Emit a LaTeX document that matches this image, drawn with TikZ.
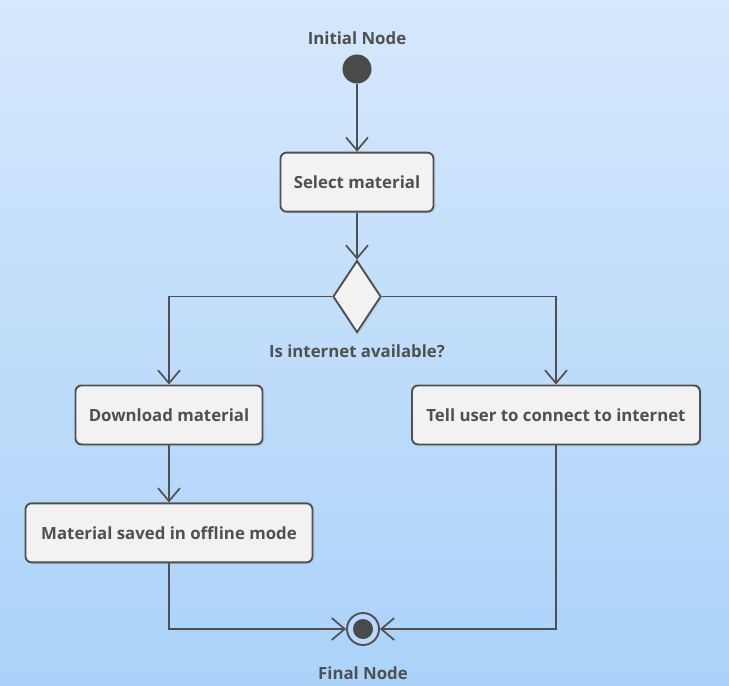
\documentclass[tikz,border=0pt]{standalone}
\usepackage{fontspec}
\setmainfont{Open Sans}
\usetikzlibrary{arrows.meta,positioning,shapes.geometric,shadows}
\definecolor{linegray}{HTML}{505050}
\definecolor{nodedark}{HTML}{4A4A4A}
\definecolor{boxfill}{HTML}{F2F2F2}
\definecolor{bgtop}{HTML}{D5E8FC}
\definecolor{bgbot}{HTML}{ABD2F9}
\tikzstyle{post}=[-{Straight Barb[length=13pt,width=22pt]},line width=1.7pt,draw=linegray]
\tikzstyle{softshadow}=[drop shadow={opacity=0.12,shadow xshift=2pt,shadow yshift=-2pt}]
\tikzstyle{action}=[rectangle,rounded corners=6pt,draw=linegray,line width=1.9pt,fill=boxfill,minimum height=59pt,text=linegray,font=\bfseries\fontsize{16.8}{19}\selectfont,softshadow]
\tikzstyle{decision}=[diamond,draw=linegray,line width=1.9pt,fill=boxfill,minimum width=48pt,minimum height=72pt,inner sep=0pt,softshadow]
\tikzstyle{initial}=[circle,fill=nodedark,minimum size=29pt,inner sep=0pt]
\tikzstyle{final}=[circle,draw=linegray,line width=1.9pt,fill=bgbot!85!white,minimum size=32pt,inner sep=0pt,path picture={\fill[nodedark] (path picture bounding box.center) circle (10pt);}]
\tikzstyle{caption}=[inner sep=0pt,text=linegray,font=\bfseries\fontsize{16.8}{19}\selectfont]

\begin{document}
\begin{tikzpicture}[x=1pt,y=1pt,node distance=50pt,auto]
            \fill[top color=bgtop,bottom color=bgbot] (0,0) rectangle (729,-686);
            \useasboundingbox (0,0) rectangle (729,-686);

            \node (init) [initial] at (357,-69) {};
            \node (initlab) [caption] [above=9pt of init] {Initial Node};
            \node (sel) [action, minimum width=153pt] [below=68pt of init] {Select material};
            \node (dec) [decision] [below=47pt of sel] {};
            \node (qlab) [caption] [below=11pt of dec] {Is internet available?};
            \node (dl) [action, minimum width=187pt] [below=51pt of dec, xshift=-188pt] {Download material};
            \node (tell) [action, minimum width=288pt] [below=51pt of dec, xshift=199pt] {Tell user to connect to internet};
            \node (saved) [action, minimum width=287pt] [below=57pt of dl] {Material saved in offline mode};
            \node (fin) [final] at (363,-629) {};
            \node (finlab) [caption] [below=21pt of fin] {Final Node};

            \path[post] (init) edge (sel);
            \path[post] (sel) edge (dec);
            \draw[post] (dec.west) -| (dl);
            \draw[post] (dec.east) -| (tell);
            \path[post] (dl) edge (saved);
            \draw[post] (saved) |- (fin);
            \draw[post] (tell) |- (fin);
\end{tikzpicture}
\end{document}
